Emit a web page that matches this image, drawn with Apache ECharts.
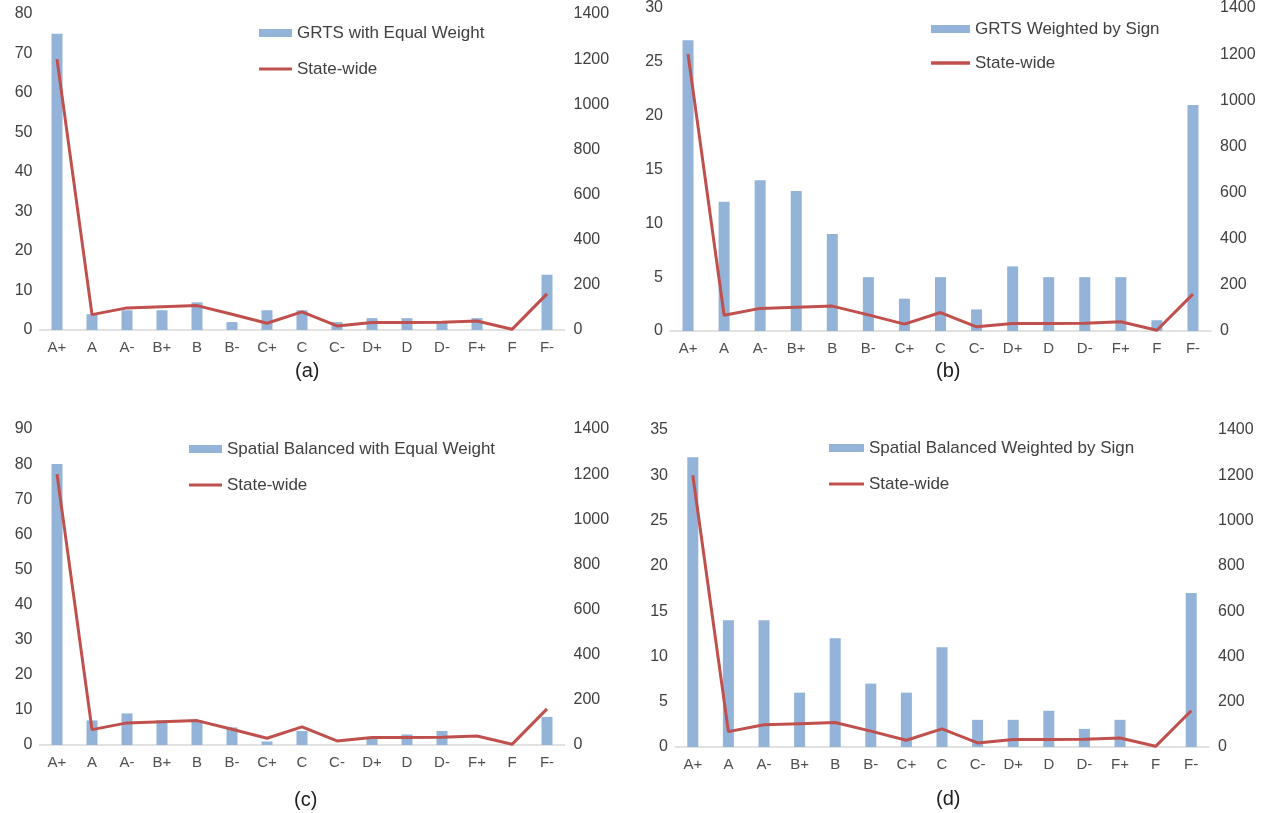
<!DOCTYPE html>
<html>
<head>
<meta charset="utf-8">
<script src="https://cdn.jsdelivr.net/npm/echarts@6/dist/echarts.min.js"></script>
<style>
html,body{margin:0;padding:0;background:#fff;}
#chart{width:1273px;height:813px;}
</style>
</head>
<body>
<div id="chart"></div>
<script>
const categories = ['A+','A','A-','B+','B','B-','C+','C','C-','D+','D','D-','F+','F','F-'];
const stateWide = [1200, 68, 98, 103, 108, 70, 30, 80, 18, 33, 33, 34, 40, 3, 160];
const grtsEqual = [75, 4, 5, 5, 7, 2, 5, 5, 2, 3, 3, 2, 3, 0, 14];
const grtsSign = [27, 12, 14, 13, 9, 5, 3, 5, 2, 6, 5, 5, 5, 1, 21];
const spatialEqual = [80, 7, 9, 7, 7, 5, 1, 4, 0, 2, 3, 4, 0, 0, 8];
const spatialSign = [32, 14, 14, 6, 12, 7, 6, 11, 3, 3, 4, 2, 3, 0, 17];
const barNames = ['GRTS with Equal Weight','GRTS Weighted by Sign','Spatial Balanced with Equal Weight','Spatial Balanced Weighted by Sign'];
const leftMax = [80, 30, 90, 35];
const leftInterval = [10, 5, 10, 5];
const rightMax = 1400, rightInterval = 200;
const panelLabels = ['(a)','(b)','(c)','(d)'];
const barSets = [grtsEqual, grtsSign, spatialEqual, spatialSign];

const FONT = '"Liberation Sans", Arial, sans-serif';
const BAR = '#93B3D8';
const LINE = '#C0504D';
const TXT = '#404040';
const LINE_ICON = 'path://M0,0 L33,0 L33,3 L0,3 Z';

const grids = [
  {left: 39.5, top: 14, width: 525, height: 316},
  {left: 670, top: 6, width: 541, height: 325},
  {left: 39.5, top: 429, width: 525, height: 316},
  {left: 675, top: 430, width: 534, height: 317}
];
const legendPos = [
  {left: 259, top: 23, w: 33, gap: 16},
  {left: 931, top: 19, w: 39, gap: 14},
  {left: 189, top: 439, w: 33, gap: 16},
  {left: 829, top: 438, w: 35, gap: 16}
];
const titlePos = [
  {left: 290, top: 356},
  {left: 931, top: 356},
  {left: 289, top: 785},
  {left: 931, top: 784}
];

const xAxis = [], yAxis = [], series = [], legend = [], title = [];
for (let i = 0; i < 4; i++) {
  xAxis.push({
    type: 'category', gridIndex: i, data: categories,
    axisTick: {show: false},
    axisLine: {lineStyle: {color: '#D9D9D9', width: 1.5}},
    axisLabel: {color: '#505050', fontFamily: FONT, fontSize: 15, margin: 10}
  });
  yAxis.push({
    type: 'value', gridIndex: i, min: 0, max: leftMax[i], interval: leftInterval[i],
    splitLine: {show: false}, axisLine: {show: false}, axisTick: {show: false},
    axisLabel: {color: TXT, fontFamily: FONT, fontSize: 16, margin: 7}
  });
  yAxis.push({
    type: 'value', gridIndex: i, position: 'right', min: 0, max: rightMax, interval: rightInterval,
    splitLine: {show: false}, axisLine: {show: false}, axisTick: {show: false},
    axisLabel: {color: TXT, fontFamily: FONT, fontSize: 16, margin: 9, formatter: v => String(v)}
  });
  series.push({
    name: barNames[i], type: 'bar', xAxisIndex: i, yAxisIndex: 2 * i,
    data: barSets[i], barWidth: 11, itemStyle: {color: BAR}, z: 2
  });
  series.push({
    name: 'State-wide', type: 'line', xAxisIndex: i, yAxisIndex: 2 * i + 1,
    data: stateWide, symbol: 'none', lineStyle: {color: LINE, width: 3}, itemStyle: {color: LINE}, z: 3
  });
  legend.push({
    orient: 'vertical', left: legendPos[i].left, top: legendPos[i].top, padding: 0,
    itemWidth: legendPos[i].w, itemHeight: 8, itemGap: legendPos[i].gap,
    data: [
      {name: barNames[i], icon: 'rect'},
      {name: 'State-wide', icon: LINE_ICON, itemStyle: {color: LINE}}
    ],
    textStyle: {color: TXT, fontFamily: FONT, fontSize: 17, lineHeight: 20},
    selectedMode: false
  });
  title.push({
    text: panelLabels[i], left: titlePos[i].left, top: titlePos[i].top,
    textStyle: {color: '#202020', fontFamily: FONT, fontSize: 20, fontWeight: 'normal'}
  });
}

const chart = echarts.init(document.getElementById('chart'), null, {renderer: 'canvas'});
chart.setOption({
  animation: false,
  backgroundColor: '#fff',
  title, grid: grids, xAxis, yAxis, series, legend
});
</script>
</body>
</html>
